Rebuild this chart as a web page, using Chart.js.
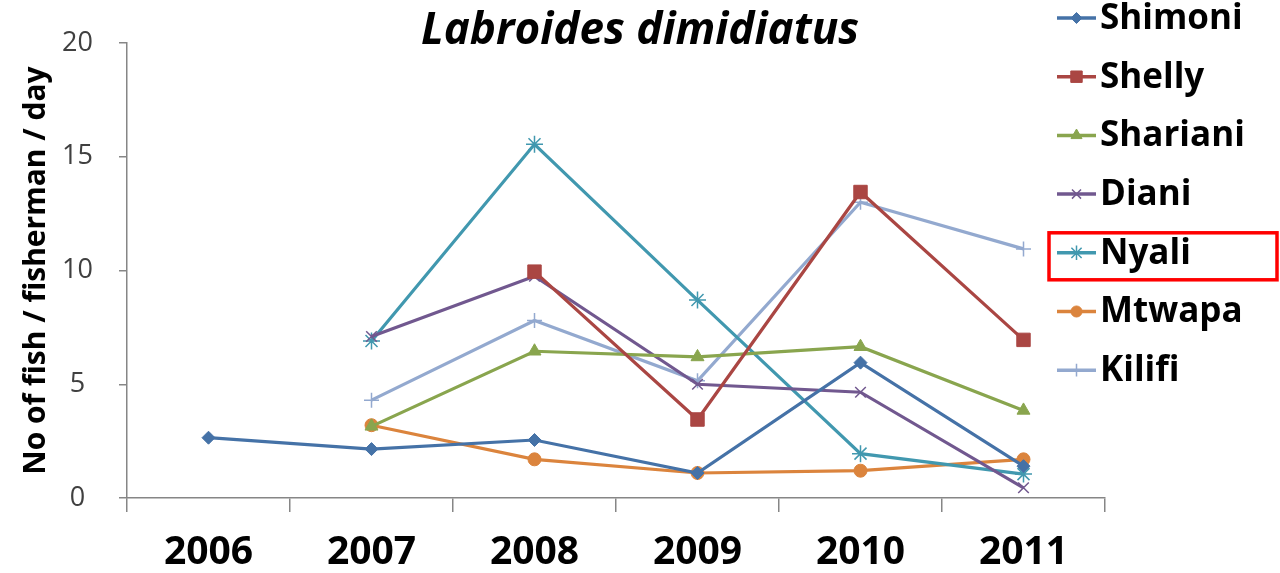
<!DOCTYPE html>
<html>
<head>
<meta charset="utf-8">
<script src="https://cdn.jsdelivr.net/npm/chart.js@4"></script>
<style>
  html, body { margin: 0; padding: 0; background: #fff; }
  #wrap { width: 1280px; height: 573px; position: relative; }
</style>
</head>
<body>
<div id="wrap"><canvas id="c" width="1280" height="573"></canvas></div>
<script>
const years = ['2006', '2007', '2008', '2009', '2010', '2011'];
const shimoni  = [2.65, 2.15, 2.55, 1.1, 5.95, 1.4];
const shelly   = [null, null, 9.95, 3.45, 13.45, 6.95];
const shariani = [null, 3.15, 6.45, 6.2, 6.65, 3.85];
const diani    = [null, 7.1, 9.75, 5.0, 4.65, 0.45];
const nyali    = [null, 6.9, 15.55, 8.7, 1.95, 1.05];
const mtwapa   = [null, 3.2, 1.7, 1.1, 1.2, 1.7];
const kilifi   = [null, 4.3, 7.8, 5.15, 13.0, 10.95];
const yTicks   = [0, 5, 10, 15, 20];
const chartTitle = 'Labroides dimidiatus';
const yTitle = 'No of fish / fisherman / day';
const highlighted = 'Nyali';

const series = [
  { label: 'Shimoni',  data: shimoni,  color: '#4572A7', style: 'rectRot',  r: 6.5 },
  { label: 'Shelly',   data: shelly,   color: '#AA4643', style: 'rect',     r: 9.5 },
  { label: 'Shariani', data: shariani, color: '#89A54E', style: 'triangle', r: 7.5 },
  { label: 'Diani',    data: diani,    color: '#71588F', style: 'crossRot', r: 7.5 },
  { label: 'Nyali',    data: nyali,    color: '#4198AF', style: 'star',     r: 8.5 },
  { label: 'Mtwapa',   data: mtwapa,   color: '#DB843D', style: 'circle',   r: 6.5 },
  { label: 'Kilifi',   data: kilifi,   color: '#93A9CF', style: 'cross',    r: 7.5 }
];

const FONT = "'Open Sans', 'DejaVu Sans', sans-serif";

const overlay = {
  id: 'overlay',
  afterDraw(chart) {
    const ctx = chart.ctx;
    ctx.save();
    ctx.fillStyle = '#000';
    ctx.font = "italic bold 44px " + FONT;
    ctx.textAlign = 'center';
    ctx.textBaseline = 'middle';
    ctx.fillText(chartTitle, 640, 31);
    const x0 = 1057, x1 = 1096, tx = 1100, y0 = 18, dy = 58.7;
    ctx.font = "bold 35px " + FONT;
    ctx.textAlign = 'left';
    chart.data.datasets.forEach((ds, i) => {
      const y = y0 + i * dy;
      ctx.strokeStyle = ds.borderColor;
      ctx.lineWidth = 3.5;
      ctx.beginPath();
      ctx.moveTo(x0, y);
      ctx.lineTo(x1, y);
      ctx.stroke();
      ctx.fillStyle = ds.pointBackgroundColor;
      ctx.strokeStyle = ds.pointBorderColor;
      ctx.lineWidth = ds.pointBorderWidth;
      Chart.helpers.drawPoint(ctx, { pointStyle: ds.pointStyle, rotation: 0, radius: ds.pointRadius * 0.85, borderWidth: ds.pointBorderWidth }, (x0 + x1) / 2, y);
      ctx.fillStyle = '#000';
      ctx.textBaseline = 'middle';
      ctx.fillText(ds.label, tx, y + 1);
      if (ds.label === highlighted) {
        ctx.strokeStyle = '#FF0000';
        ctx.lineWidth = 3.5;
        ctx.strokeRect(1049, y - 20, 228, 47);
      }
    });
    ctx.restore();
  }
};

const datasets = series.map(s => ({
  label: s.label,
  data: s.data,
  borderColor: s.color,
  backgroundColor: s.color,
  borderWidth: 3.2,
  pointStyle: s.style,
  pointRadius: s.r,
  pointHoverRadius: s.r,
  pointBackgroundColor: s.color,
  pointBorderColor: s.color,
  pointBorderWidth: (s.style === 'cross' || s.style === 'crossRot' || s.style === 'star') ? 1.5 : 1,
  tension: 0,
  fill: false
}));

new Chart(document.getElementById('c'), {
  type: 'line',
  data: { labels: years, datasets },
  plugins: [overlay],
  options: {
    responsive: false,
    animation: false,
    layout: { padding: { top: 43, right: 175, bottom: 0, left: 0 } },
    plugins: { legend: { display: false }, tooltip: { enabled: false }, title: { display: false } },
    scales: {
      x: {
        type: 'category',
        offset: true,
        afterFit(scale) { scale.height = 75; },
        border: { display: true, color: '#868686', width: 1.5 },
        grid: { display: true, offset: true, drawOnChartArea: false, drawTicks: true, tickLength: 14, color: '#868686', lineWidth: 1.5 },
        ticks: { color: '#000', font: { family: FONT, size: 39, weight: 'bold' }, padding: 17, maxRotation: 0, autoSkip: false }
      },
      y: {
        min: 0, max: 20,
        afterFit(scale) { scale.width = 127; },
        afterBuildTicks(scale) { scale.ticks = yTicks.map(v => ({ value: v })); },
        border: { display: true, color: '#868686', width: 1.5 },
        grid: { display: true, drawOnChartArea: false, drawTicks: true, tickLength: 8, color: '#868686', lineWidth: 1.5 },
        ticks: { color: '#404040', font: { family: FONT, size: 27 }, padding: 26, crossAlign: 'center' },
        title: { display: true, text: yTitle, color: '#000', font: { family: FONT, size: 30, weight: 'bold' }, padding: { top: 18, bottom: 0 } }
      }
    }
  }
});
</script>
</body>
</html>
